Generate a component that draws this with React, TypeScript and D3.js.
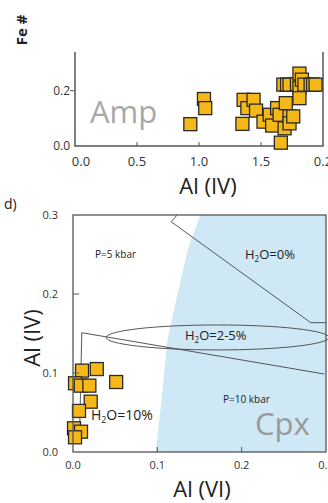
import React, { useEffect, useRef } from 'react'
import * as d3 from 'd3'

// amphibole: Al(IV) vs Fe#
const ampAlIV = [0.93, 1.04, 1.05, 1.36, 1.39, 1.35, 1.44, 1.46, 1.52, 1.57, 1.59, 1.63, 1.65, 1.66, 1.69, 1.70, 1.73, 1.73, 1.76, 1.68, 1.71, 1.73, 1.79, 1.81, 1.81, 1.81, 1.83, 1.85, 1.90, 1.92, 1.94]
const ampFe = [0.079, 0.17, 0.137, 0.167, 0.137, 0.08, 0.167, 0.128, 0.088, 0.113, 0.074, 0.137, 0.113, 0.012, 0.064, 0.155, 0.107, 0.082, 0.107, 0.222, 0.222, 0.222, 0.224, 0.262, 0.21, 0.173, 0.24, 0.222, 0.222, 0.222, 0.222]
const ampXTicks = [0, 0.5, 1, 1.5, 2]
const ampXTickLabels = ['0.0', '0.5', '1.0', '1.5', '0.2']
const ampYTicks = [0, 0.2]

// clinopyroxene: Al(VI) vs Al(IV)
const cpxAlVI = [0.0107, 0.0282, 0.0024, 0.0092, 0.0194, 0.0512, 0.021, 0.0071, 0.0012, 0.0095, 0.0024]
const cpxAlIV = [0.103, 0.105, 0.087, 0.084, 0.084, 0.0886, 0.0637, 0.052, 0.03, 0.0257, 0.0186]
const cpxTicks = [0, 0.1, 0.2, 0.3]
const cpxTickLabels = ['0.0', '0.1', '0.2', '0.3']

// cpx field (blue) left boundary
const fieldX = [0.151, 0.136, 0.124, 0.112, 0.105, 0.098]
const fieldY = [0.3, 0.256, 0.2, 0.142, 0.066, 0]
// P = 5 kbar line
const p5X = [0.1235, 0.1163, 0.282, 0.3]
const p5Y = [0.3, 0.2915, 0.1637, 0.1637]
// P = 10 kbar line
const p10X = [0.008, 0.0104, 0.298]
const p10Y = [0.03, 0.151, 0.0987]
// H2O = 2-5% ellipse: cx, cy, rx, ry
const ellipse = [0.1714, 0.145, 0.132, 0.0158]

const FONT = "'Open Sans', sans-serif"
const SQ = 13

export default function App() {
  const ref = useRef(null)

  useEffect(() => {
    const svg = d3.select(ref.current)
    svg.selectAll('*').remove()

    // ---------- top panel ----------
    const x1 = d3.scaleLinear().domain([0, 2]).range([75, 323])
    const y1 = d3.scaleLinear().domain([0, 0.34]).range([146, 52])

    const top = svg.append('g')
    top.append('path')
      .attr('d', `M${x1(0)},${y1(0.34)}V${y1(0)}H${x1(2)}V${y1(0.34)}`)
      .attr('fill', 'none').attr('stroke', '#555').attr('stroke-width', 1.5)

    ampXTicks.forEach((t, i) => {
      if (t > 0 && t < 2) {
        top.append('line').attr('x1', x1(t)).attr('x2', x1(t))
          .attr('y1', y1(0)).attr('y2', y1(0) - 4)
          .attr('stroke', '#555').attr('stroke-width', 1)
      }
      top.append('text').attr('x', x1(t) + (i === 0 ? 6 : 0)).attr('y', 166)
        .attr('text-anchor', 'middle').attr('font-size', 13).attr('fill', '#333')
        .attr('font-family', FONT).text(ampXTickLabels[i])
    })
    ampYTicks.forEach((t) => {
      if (t > 0) {
        top.append('line').attr('x1', x1(0) - 5).attr('x2', x1(0))
          .attr('y1', y1(t)).attr('y2', y1(t))
          .attr('stroke', '#555').attr('stroke-width', 1)
      }
      top.append('text').attr('x', 70).attr('y', y1(t) + 4)
        .attr('text-anchor', 'end').attr('font-size', 12).attr('fill', '#333')
        .attr('font-family', FONT).text(t.toFixed(1))
    })

    top.append('text').attr('x', 90).attr('y', 123)
      .attr('font-size', 31).attr('fill', '#a8a8a8').attr('font-family', FONT).text('Amp')

    top.selectAll('rect.amp').data(d3.range(ampAlIV.length)).enter().append('rect')
      .attr('x', (i) => x1(ampAlIV[i]) - SQ / 2).attr('y', (i) => y1(ampFe[i]) - SQ / 2)
      .attr('width', SQ).attr('height', SQ)
      .attr('fill', '#f6b818').attr('stroke', '#2a2a2a').attr('stroke-width', 1.3)

    top.append('text').attr('x', 208).attr('y', 194).attr('text-anchor', 'middle')
      .attr('font-size', 22).attr('fill', '#222').attr('font-family', FONT).text('Al (IV)')
    top.append('text').attr('transform', 'translate(27,30) rotate(-90)')
      .attr('text-anchor', 'middle').attr('font-size', 15).attr('font-weight', 'bold')
      .attr('fill', '#222').attr('font-family', FONT).text('Fe #')

    // ---------- bottom panel ----------
    const x2 = d3.scaleLinear().domain([0, 0.3]).range([73, 326])
    const y2 = d3.scaleLinear().domain([0, 0.3]).range([452, 215])
    const bot = svg.append('g')

    bot.append('text').attr('x', 4).attr('y', 209).attr('font-size', 14)
      .attr('fill', '#222').attr('font-family', FONT).text('d)')

    const fieldPts: [number, number][] = fieldX.map((v, i) => [v, fieldY[i]])
    fieldPts.push([0.3, 0], [0.3, 0.3])
    bot.append('path')
      .attr('d', d3.line<[number, number]>().x((d) => x2(d[0])).y((d) => y2(d[1]))(fieldPts) + 'Z')
      .attr('fill', '#cfe8f6')

    const drawLine = (xs: number[], ys: number[]) => {
      const pts: [number, number][] = xs.map((v, i) => [x2(v), y2(ys[i])])
      bot.append('path').attr('d', d3.line()(pts))
        .attr('fill', 'none').attr('stroke', '#444').attr('stroke-width', 0.9)
    }
    drawLine(p5X, p5Y)
    drawLine(p10X, p10Y)

    bot.append('ellipse')
      .attr('cx', x2(ellipse[0])).attr('cy', y2(ellipse[1]))
      .attr('rx', x2(ellipse[2]) - x2(0)).attr('ry', y2(0) - y2(ellipse[3]))
      .attr('fill', 'none').attr('stroke', '#444').attr('stroke-width', 0.9)

    const addH2O = (x: number, y: number, size: number, rest: string) => {
      const t = bot.append('text').attr('x', x).attr('y', y).attr('font-size', size)
        .attr('fill', '#222').attr('font-family', FONT)
      t.append('tspan').text('H')
      t.append('tspan').attr('font-size', size * 0.62).attr('dy', 3).text('2')
      t.append('tspan').attr('dy', -3).text(rest)
    }
    addH2O(245, 259, 13, 'O=0%')
    addH2O(185, 340, 13, 'O=2-5%')
    addH2O(91, 420, 14, 'O=10%')

    bot.append('text').attr('x', 95).attr('y', 258).attr('font-size', 10)
      .attr('fill', '#222').attr('font-family', FONT).text('P=5 kbar')
    bot.append('text').attr('x', 223).attr('y', 403).attr('font-size', 10)
      .attr('fill', '#222').attr('font-family', FONT).text('P=10 kbar')
    bot.append('text').attr('x', 255).attr('y', 435).attr('font-size', 31)
      .attr('fill', '#9a9a9a').attr('font-family', FONT).text('Cpx')

    bot.selectAll('rect.cpx').data(d3.range(cpxAlVI.length)).enter().append('rect')
      .attr('x', (i) => x2(cpxAlVI[i]) - SQ / 2).attr('y', (i) => y2(cpxAlIV[i]) - SQ / 2)
      .attr('width', SQ).attr('height', SQ)
      .attr('fill', '#f6b818').attr('stroke', '#2a2a2a').attr('stroke-width', 1.3)

    bot.append('rect').attr('x', x2(0)).attr('y', y2(0.3))
      .attr('width', x2(0.3) - x2(0)).attr('height', y2(0) - y2(0.3))
      .attr('fill', 'none').attr('stroke', '#555').attr('stroke-width', 1.3)

    cpxTicks.forEach((t, i) => {
      if (t > 0 && t < 0.3) {
        bot.append('line').attr('x1', x2(t)).attr('x2', x2(t))
          .attr('y1', y2(0)).attr('y2', y2(0) - 5).attr('stroke', '#555')
        bot.append('line').attr('x1', x2(0)).attr('x2', x2(0) + 6)
          .attr('y1', y2(t)).attr('y2', y2(t)).attr('stroke', '#555')
      }
      bot.append('text').attr('x', x2(t)).attr('y', 469).attr('text-anchor', 'middle')
        .attr('font-size', 11).attr('fill', '#333').attr('font-family', FONT).text(cpxTickLabels[i])
      bot.append('text').attr('x', 58).attr('y', y2(t) + 4).attr('text-anchor', 'end')
        .attr('font-size', 11).attr('fill', '#333').attr('font-family', FONT).text(cpxTickLabels[i])
    })

    bot.append('text').attr('x', 202).attr('y', 497).attr('text-anchor', 'middle')
      .attr('font-size', 22).attr('fill', '#222').attr('font-family', FONT).text('Al (VI)')
    bot.append('text').attr('transform', 'translate(40,338) rotate(-90)')
      .attr('text-anchor', 'middle').attr('font-size', 22)
      .attr('fill', '#222').attr('font-family', FONT).text('Al (IV)')
  }, [])

  return (
    <svg ref={ref} width={328} height={503}
      style={{ position: 'absolute', left: 0, top: 0, background: '#fff' }} />
  )
}
